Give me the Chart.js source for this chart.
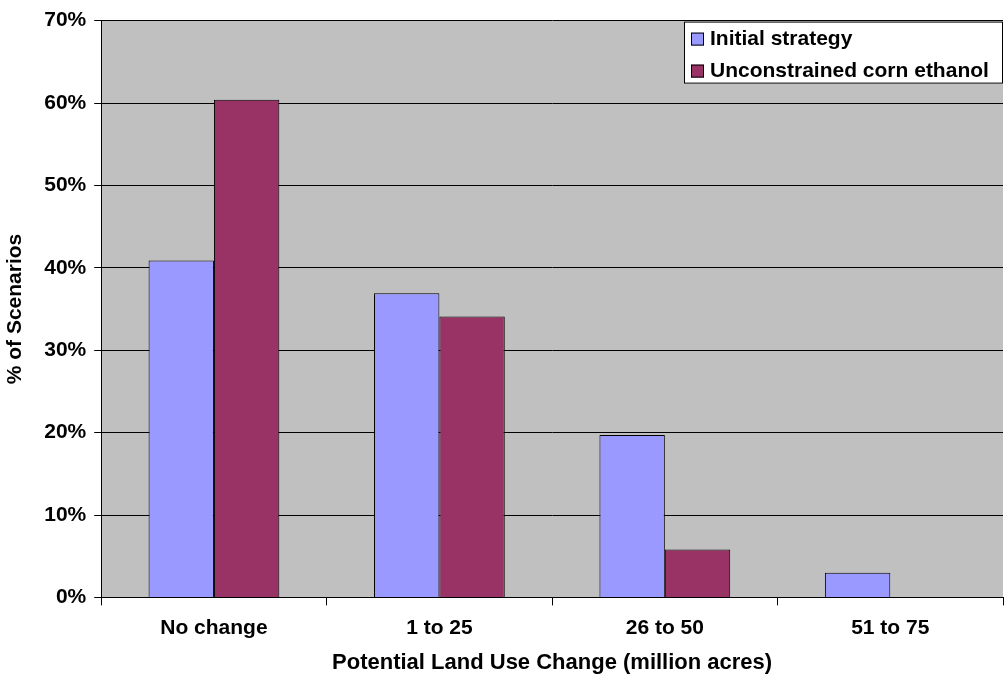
<!DOCTYPE html>
<html>
<head>
<meta charset="utf-8">
<script src="https://cdn.jsdelivr.net/npm/chart.js@4"></script>
<style>
  html, body { margin: 0; padding: 0; background: #fff; }
  #wrap { width: 1005px; height: 675px; }
</style>
</head>
<body>
<div id="wrap"><canvas id="chart" width="1005" height="675"></canvas></div>
<script>
const categories = ['No change', '1 to 25', '26 to 50', '51 to 75'];
const initialStrategy = [40.9, 36.9, 19.7, 3.0];
const unconstrainedEthanol = [60.4, 34.1, 5.8, 0];
const seriesNames = ['Initial strategy', 'Unconstrained corn ethanol'];

const FONT = '"Liberation Sans", Arial, sans-serif';

// grey plot background
const plotBackground = {
  id: 'plotBackground',
  beforeDraw: (chart) => {
    const { ctx, chartArea: a } = chart;
    ctx.save();
    ctx.fillStyle = '#C0C0C0';
    ctx.fillRect(a.left, a.top, a.right - a.left, a.bottom - a.top);
    ctx.restore();
  }
};

// boxed legend in the top right corner of the plot
const boxLegend = {
  id: 'boxLegend',
  afterDatasetsDraw: (chart) => {
    const { ctx, chartArea: a } = chart;
    const w = 319, h = 62;
    const x = a.right - w, y = a.top + 1;
    ctx.save();
    ctx.fillStyle = '#fff';
    ctx.fillRect(x, y, w, h);
    ctx.strokeStyle = '#000';
    ctx.lineWidth = 1;
    ctx.strokeRect(x + 0.5, y + 0.5, w - 1, h - 1);
    ctx.font = 'bold 21px ' + FONT;
    ctx.textBaseline = 'middle';
    chart.data.datasets.forEach((ds, i) => {
      const cy = y + 17 + i * 32;
      ctx.fillStyle = ds.backgroundColor;
      ctx.fillRect(x + 7, cy - 6, 13, 13);
      ctx.strokeRect(x + 7.5, cy - 5.5, 12, 12);
      ctx.fillStyle = '#000';
      ctx.fillText(ds.label, x + 26, cy + 1);
    });
    ctx.restore();
  }
};

new Chart(document.getElementById('chart'), {
  type: 'bar',
  data: {
    labels: categories,
    datasets: [{
      label: seriesNames[0],
      data: initialStrategy,
      backgroundColor: '#9999FF',
      borderColor: '#000',
      borderWidth: 1,
      categoryPercentage: 0.58,
      barPercentage: 1.0,
    }, {
      label: seriesNames[1],
      data: unconstrainedEthanol,
      backgroundColor: '#993366',
      borderColor: '#000',
      borderWidth: 1,
      categoryPercentage: 0.58,
      barPercentage: 1.0,
    }],
  },
  plugins: [plotBackground, boxLegend],
  options: {
    responsive: false,
    animation: false,
    layout: { padding: { top: 0, right: 2, left: 3, bottom: -1 } },
    plugins: {
      legend: { display: false },
      tooltip: { enabled: false },
    },
    scales: {
      x: {
        offset: true,
        grid: { offset: true, drawOnChartArea: false, tickLength: 8, color: '#000' },
        border: { color: '#000' },
        ticks: { color: '#000', font: { family: FONT, size: 21, weight: 'bold' }, padding: 10 },
        title: {
          display: true,
          text: 'Potential Land Use Change (million acres)',
          color: '#000',
          font: { family: FONT, size: 22, weight: 'bold' },
          padding: { top: -1, bottom: 0 },
        },
      },
      y: {
        min: 0,
        max: 70,
        ticks: {
          stepSize: 10,
          color: '#000',
          font: { family: FONT, size: 21, weight: 'bold' },
          padding: 8,
          callback: v => v + '%',
        },
        grid: { color: '#000', tickLength: 7 },
        border: { color: '#000' },
        title: {
          display: true,
          text: '% of Scenarios',
          color: '#000',
          font: { family: FONT, size: 21, weight: 'bold' },
          padding: { top: 0, bottom: 8 },
        },
      },
    },
  },
});
</script>
</body>
</html>
